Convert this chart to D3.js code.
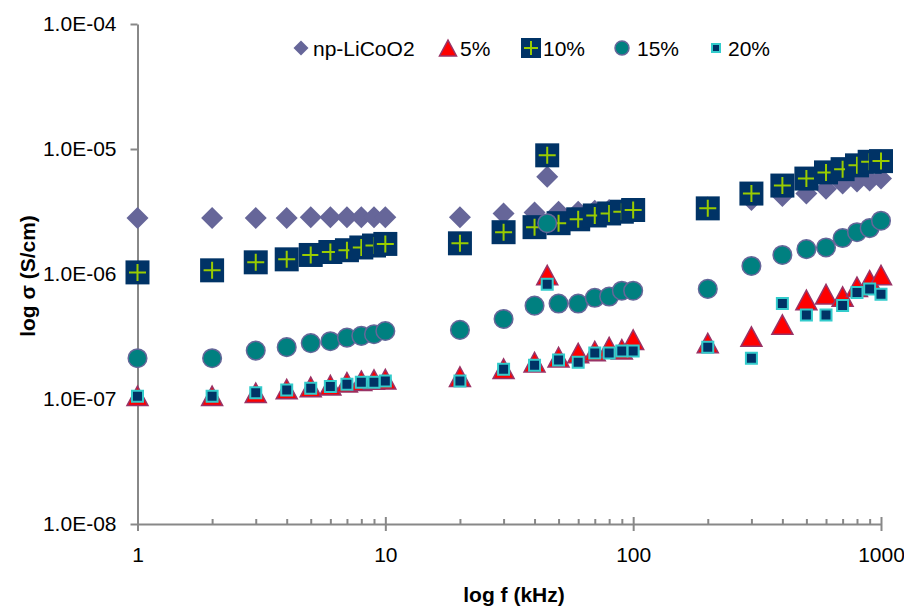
<!DOCTYPE html>
<html>
<head>
<meta charset="utf-8">
<script src="https://cdn.jsdelivr.net/npm/d3@7"></script>
<style>
  body { margin: 0; background: #fff; }
  svg { display: block; font-family: "Liberation Sans", Arial, sans-serif; }
</style>
</head>
<body>
<svg id="chart" width="904" height="608"></svg>
<script>
// frequencies (kHz)
const freq = [1, 2, 3, 4, 5, 6, 7, 8, 9, 10,
  20, 30, 40, 45, 50, 60, 70, 80, 90, 100,
  200, 300, 400, 500, 600, 700, 800, 900, 1000];

// conductivity (S/cm) per sample
const npLiCoO2 = [2.8e-6, 2.8e-6, 2.8e-6, 2.8e-6, 2.85e-6, 2.85e-6, 2.85e-6, 2.85e-6, 2.85e-6, 2.85e-6,
  2.85e-6, 3.05e-6, 3.1e-6, 6.0e-6, 3.15e-6, 3.15e-6, 3.2e-6, 3.25e-6, 3.25e-6, 3.3e-6,
  3.4e-6, 3.9e-6, 4.2e-6, 4.4e-6, 4.8e-6, 5.3e-6, 5.5e-6, 5.6e-6, 5.8e-6];
const pct5 = [1.06e-7, 1.06e-7, 1.12e-7, 1.2e-7, 1.25e-7, 1.29e-7, 1.36e-7, 1.4e-7, 1.43e-7, 1.44e-7,
  1.51e-7, 1.75e-7, 1.97e-7, 9.8e-7, 2.16e-7, 2.33e-7, 2.42e-7, 2.6e-7, 2.5e-7, 2.98e-7,
  2.8e-7, 3.16e-7, 3.94e-7, 6.2e-7, 6.9e-7, 6.6e-7, 7.9e-7, 8.9e-7, 9.8e-7];
const pct10 = [1.03e-6, 1.07e-6, 1.24e-6, 1.31e-6, 1.42e-6, 1.5e-6, 1.55e-6, 1.63e-6, 1.69e-6, 1.74e-6,
  1.76e-6, 2.16e-6, 2.37e-6, 8.9e-6, 2.55e-6, 2.74e-6, 2.94e-6, 3.05e-6, 3.15e-6, 3.25e-6,
  3.35e-6, 4.4e-6, 5.1e-6, 5.8e-6, 6.5e-6, 6.9e-6, 7.4e-6, 7.9e-6, 8.0e-6];
const pct15 = [2.12e-7, 2.12e-7, 2.44e-7, 2.6e-7, 2.8e-7, 2.9e-7, 3.1e-7, 3.2e-7, 3.3e-7, 3.5e-7,
  3.57e-7, 4.37e-7, 5.58e-7, 2.55e-6, 5.8e-7, 5.8e-7, 6.45e-7, 6.6e-7, 7.35e-7, 7.35e-7,
  7.6e-7, 1.16e-6, 1.42e-6, 1.58e-6, 1.63e-6, 1.94e-6, 2.16e-6, 2.33e-6, 2.67e-6];
const pct20 = [1.05e-7, 1.05e-7, 1.12e-7, 1.18e-7, 1.22e-7, 1.26e-7, 1.31e-7, 1.36e-7, 1.36e-7, 1.39e-7,
  1.39e-7, 1.73e-7, 1.86e-7, 8.27e-7, 2.05e-7, 1.97e-7, 2.33e-7, 2.33e-7, 2.42e-7, 2.42e-7,
  2.6e-7, 2.12e-7, 5.8e-7, 4.7e-7, 4.7e-7, 5.6e-7, 7.1e-7, 7.6e-7, 6.9e-7];

const seriesNames = ['np-LiCoO2', '5%', '10%', '15%', '20%'];
const seriesValues = [npLiCoO2, pct5, pct10, pct15, pct20];

// axis ticks
const yTicks = [1e-8, 1e-7, 1e-6, 1e-5, 1e-4];
const yTickLabels = ['1.0E-08', '1.0E-07', '1.0E-06', '1.0E-05', '1.0E-04'];
const xTicks = [1, 10, 100, 1000];
const xTickLabels = ['1', '10', '100', '1000'];

// custom marker shapes (size = width squared)
const diamondType = {
  draw(ctx, size) {
    const r = Math.sqrt(size) / 2;
    ctx.moveTo(0, -r); ctx.lineTo(r, 0); ctx.lineTo(0, r); ctx.lineTo(-r, 0); ctx.closePath();
  }
};
const triangleType = {
  draw(ctx, size) {
    const w = Math.sqrt(size), h = w * 0.93;
    ctx.moveTo(0, -h / 2); ctx.lineTo(w / 2, h / 2); ctx.lineTo(-w / 2, h / 2); ctx.closePath();
  }
};
const plusType = {
  draw(ctx, size) {
    const r = Math.sqrt(size) / 2;
    ctx.moveTo(-r, 0); ctx.lineTo(r, 0); ctx.moveTo(0, -r); ctx.lineTo(0, r);
  }
};

// draws one marker of series i into group g; big = plot size, else legend size
function drawMarker(g, i, big) {
  const k = big ? 1 : 0;
  if (i === 0) {
    const w = [15, 22][k];
    g.append('path').attr('d', d3.symbol(diamondType, w * w)()).attr('fill', '#666699');
  } else if (i === 1) {
    const w = [17, 21][k];
    g.append('path').attr('d', d3.symbol(triangleType, w * w)())
      .attr('fill', '#FF0000').attr('stroke', '#993366').attr('stroke-width', 1.5);
  } else if (i === 2) {
    const w = [20, 24][k], c = [14, 17][k];
    g.append('path').attr('d', d3.symbol(d3.symbolSquare, w * w)()).attr('fill', '#003366');
    g.append('path').attr('d', d3.symbol(plusType, c * c)())
      .attr('fill', 'none').attr('stroke', '#99CC00').attr('stroke-width', 2);
  } else if (i === 3) {
    const r = [7, 9.3][k];
    g.append('path').attr('d', d3.symbol(d3.symbolCircle, Math.PI * r * r)())
      .attr('fill', '#008080').attr('stroke', '#666699').attr('stroke-width', 1.5);
  } else {
    const w = [8, 11][k];
    g.append('path').attr('d', d3.symbol(d3.symbolSquare, w * w)())
      .attr('fill', '#003366').attr('stroke', '#33CCCC').attr('stroke-width', 2);
  }
}

const svg = d3.select('#chart');
const axisColor = '#888888';

const x = d3.scaleLog().domain([1, 1000]).range([137.5, 881]);
const y = d3.scaleLog().domain([1e-8, 1e-4]).range([524, 24]);

// y axis
const yAxis = svg.append('g').attr('transform', `translate(${x(1)},0)`)
  .call(d3.axisLeft(y).tickValues(yTicks).tickFormat((d, i) => yTickLabels[i])
    .tickSizeInner(7).tickSizeOuter(0).tickPadding(14));
yAxis.select('.domain').attr('stroke', axisColor).attr('stroke-width', 2);
yAxis.selectAll('.tick line').attr('stroke', axisColor).attr('stroke-width', 2);
yAxis.selectAll('.tick text').attr('font-size', 21).attr('fill', '#000')
  .attr('font-family', '"Liberation Sans", Arial, sans-serif');

// x axis: minor ticks first, then majors crossing the line
const minorTicks = d3.range(1, 4).flatMap(p => d3.range(2, 10).map(m => m * Math.pow(10, p - 1)));
const xMinor = svg.append('g').attr('transform', `translate(0,${y(1e-8)})`)
  .call(d3.axisBottom(x).tickValues(minorTicks).tickFormat('').tickSizeInner(-5).tickSizeOuter(0));
xMinor.select('.domain').remove();
xMinor.selectAll('.tick line').attr('stroke', axisColor).attr('stroke-width', 2);

const xAxis = svg.append('g').attr('transform', `translate(0,${y(1e-8)})`)
  .call(d3.axisBottom(x).tickValues(xTicks).tickFormat((d, i) => xTickLabels[i])
    .tickSizeInner(7).tickSizeOuter(0).tickPadding(16));
xAxis.select('.domain').attr('stroke', axisColor).attr('stroke-width', 2);
xAxis.selectAll('.tick line').attr('y1', -7).attr('stroke', axisColor).attr('stroke-width', 2);
xAxis.selectAll('.tick text').attr('font-size', 21).attr('fill', '#000')
  .attr('font-family', '"Liberation Sans", Arial, sans-serif');

// axis titles
svg.append('text').attr('x', 514).attr('y', 602).attr('text-anchor', 'middle')
  .attr('font-size', 21).attr('font-weight', 'bold').text('log f (kHz)');
svg.append('text').attr('transform', 'translate(35,276) rotate(-90)').attr('text-anchor', 'middle')
  .attr('font-size', 21).attr('font-weight', 'bold').text('log σ (S/cm)');

// data points
seriesValues.forEach((vals, i) => {
  const g = svg.append('g').attr('class', 'series');
  vals.forEach((v, j) => {
    const p = g.append('g').attr('transform', `translate(${x(freq[j])},${y(v)})`);
    drawMarker(p, i, true);
  });
});

// legend
const legendMarkerX = [301, 448, 531, 622, 716];
const legendTextX = [313, 460, 543, 637, 728];
const legendY = 48;
seriesNames.forEach((name, i) => {
  const p = svg.append('g').attr('transform', `translate(${legendMarkerX[i]},${legendY})`);
  drawMarker(p, i, false);
  svg.append('text').attr('x', legendTextX[i]).attr('y', legendY + 7.5)
    .attr('font-size', 21).text(name);
});
</script>
</body>
</html>
